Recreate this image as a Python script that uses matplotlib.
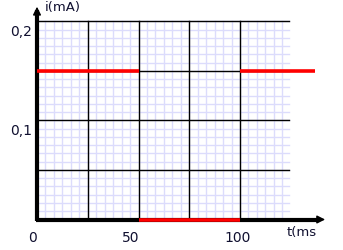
import matplotlib
matplotlib.use("Agg")
import matplotlib.pyplot as plt
import numpy as np

# square wave current, i(mA) vs t(ms): one flat segment per step
seg_start = [0, 50, 100]
seg_end = [50, 100, 137]
seg_level = [0.15, 0.0, 0.15]

x_major = [25, 50, 75, 100]
y_major = [0.05, 0.10, 0.15, 0.20]
y_tick_vals = [0.2, 0.1]
y_tick_labels = ["0,2", "0,1"]
x_tick_vals = [-2, 46, 99]
x_tick_labels = ["0", "50", "100"]

grid_t_max = 124.0
grid_i_max = 0.2

fig = plt.figure(figsize=(3.43, 2.51), dpi=100)
ax = fig.add_axes([0, 0, 1, 1])
ax.set_xlim(-18.23, 150.74)
ax.set_ylim(-0.0308, 0.2227)
ax.axis("off")

# light grid (6 subdivisions per major cell)
for xv in np.arange(25 / 6, grid_t_max + 0.1, 25 / 6):
    ax.plot([xv, xv], [0, grid_i_max], color="#dcdcfc", lw=1, zorder=1)
for yv in np.arange(0.05 / 6, grid_i_max + 1e-6, 0.05 / 6):
    ax.plot([0, grid_t_max], [yv, yv], color="#dcdcfc", lw=1, zorder=1)

# major grid
for xv in x_major:
    ax.plot([xv, xv], [0, grid_i_max], color="black", lw=1, zorder=2)
for yv in y_major:
    ax.plot([0, grid_t_max], [yv, yv], color="black", lw=1, zorder=2)

# axes with arrows
ax.plot([0, 0], [-0.0012, 0.212], color="black", lw=3, zorder=3, solid_capstyle="butt")
ax.plot([-0.7, 139], [0, 0], color="black", lw=3, zorder=3, solid_capstyle="butt")
ax.annotate("", xy=(0, 0.2177), xytext=(0, 0.20),
            arrowprops=dict(arrowstyle="-|>", color="black", lw=1, mutation_scale=12), zorder=4)
ax.annotate("", xy=(143.3, 0), xytext=(136, 0),
            arrowprops=dict(arrowstyle="-|>", color="black", lw=1, mutation_scale=12), zorder=4)

# signal
ax.hlines(seg_level, seg_start, seg_end, color="#ff0000", lw=2.6, zorder=5)

txt = "#101030"
for v, lab in zip(y_tick_vals, y_tick_labels):
    ax.text(-2.5, v - 0.0095, lab, ha="right", va="center", fontsize=10, color=txt)
for v, lab in zip(x_tick_vals, x_tick_labels):
    ax.text(v, -0.0175, lab, ha="center", va="center", fontsize=10, color=txt)
ax.text(123, -0.0125, "t(ms", ha="left", va="center", fontsize=9.5, color=txt)
ax.text(4, 0.2155, "i(mA)", ha="left", va="center", fontsize=9.5, color=txt)

fig.savefig("out.png", dpi=100)
